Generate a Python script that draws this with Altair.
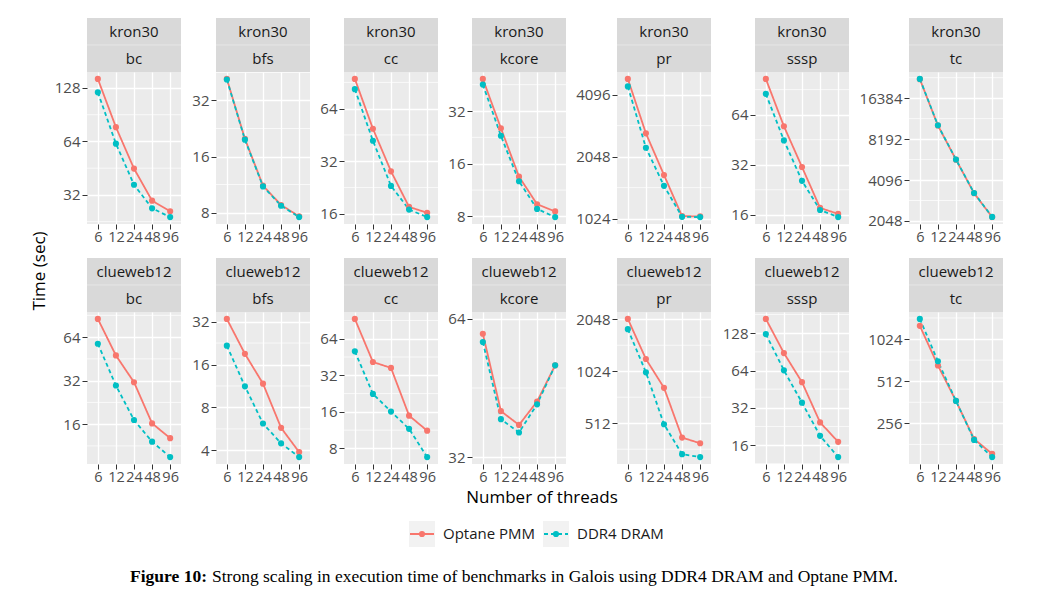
import math
import altair as alt
import pandas as pd

# ---------------- data ----------------
THREADS = ["6", "12", "24", "48", "96"]
GRAPHS = ["kron30", "clueweb12"]
BENCHES = ["bc", "bfs", "cc", "kcore", "pr", "sssp", "tc"]
SERIES = ["Optane PMM", "DDR4 DRAM"]
COLORS = ["#F8766D", "#00BFC4"]

KRON30_OPTANE = {
    "bc": [144, 77, 45, 29.7, 25.9],
    "bfs": [41.8, 19.9, 11.15, 8.78, 7.63],
    "cc": [94.8, 49.1, 28.0, 17.5, 16.2],
    "kcore": [48.8, 25.5, 13.5, 9.39, 8.54],
    "pr": [4881, 2656, 1667, 1053, 1050],
    "sssp": [105, 54.5, 31.0, 17.6, 16.2],
    "tc": [22600, 10310, 5780, 3277, 2187],
}
KRON30_DRAM = {
    "bc": [121, 62.2, 36.5, 26.9, 24.0],
    "bfs": [41.5, 19.7, 11.05, 8.7, 7.56],
    "cc": [82.8, 41.9, 23.1, 16.9, 15.3],
    "kcore": [45.3, 23.1, 12.7, 8.83, 7.93],
    "pr": [4488, 2261, 1477, 1045, 1042],
    "sssp": [85.4, 44.8, 25.6, 17.1, 15.5],
    "tc": [22700, 10350, 5800, 3290, 2195],
}
CLUEWEB12_OPTANE = {
    "bc": [85.5, 47.8, 31.2, 16.2, 12.8],
    "bfs": [33.4, 19.0, 11.75, 5.76, 3.89],
    "cc": [93.2, 41.2, 36.8, 14.9, 11.2],
    "kcore": [59.4, 40.3, 37.6, 42.3, 50.7],
    "pr": [2057, 1205, 821, 423, 392],
    "sssp": [167, 88.5, 51.5, 24.4, 17.0],
    "tc": [1272, 663, 370, 198, 155],
}
CLUEWEB12_DRAM = {
    "bc": [57.6, 29.6, 17.1, 12.1, 9.47],
    "bfs": [21.7, 11.25, 6.17, 4.48, 3.59],
    "cc": [50.4, 22.5, 16.1, 11.6, 6.79],
    "kcore": [57.0, 38.7, 36.2, 41.7, 50.7],
    "pr": [1794, 1009, 505, 339, 326],
    "sssp": [126, 64.2, 35.2, 19.0, 12.8],
    "tc": [1426, 711, 370, 195, 147],
}
# extra y-limits seen in one panel (its axis spans 32..64)
Y_LIMITS_EXTRA = {("clueweb12", "kcore"): [32, 64]}

DATA = {
    "kron30": {"Optane PMM": KRON30_OPTANE, "DDR4 DRAM": KRON30_DRAM},
    "clueweb12": {"Optane PMM": CLUEWEB12_OPTANE, "DDR4 DRAM": CLUEWEB12_DRAM},
}

# ---------------- styling ----------------
FONT = "Open Sans"
SERIF = "Liberation Serif"
PW, PH = 94, 152          # panel plot size
STRIP = 54                # strip height (two rows)
AXIS_EXTENT = [34, 26, 25, 25, 42, 35, 51]
PANEL_BG = "#EBEBEB"
STRIP_BG = "#D9D9D9"


def panel(graph, bench, col):
    rows = []
    for s in SERIES:
        for t, v in zip(THREADS, DATA[graph][s][bench]):
            rows.append({"threads": t, "n": int(t), "time": v, "series": s})
    df = pd.DataFrame(rows)

    vals = list(df["time"]) + Y_LIMITS_EXTRA.get((graph, bench), [])
    lo, hi = math.log2(min(vals)), math.log2(max(vals))
    pad = 0.05 * (hi - lo)
    dlo, dhi = lo - pad, hi + pad
    ticks = [2 ** k for k in range(math.ceil(dlo), math.floor(dhi) + 1)]
    minor = [2 ** (k + 0.5) for k in range(math.floor(dlo) - 1, math.ceil(dhi) + 1)
             if dlo < k + 0.5 < dhi]

    x = alt.X("threads:O",
              scale=alt.Scale(type="point", domain=THREADS, padding=0.6),
              axis=alt.Axis(title=None, labelAngle=0, labelFont=FONT, labelFontSize=14.5,
                            labelColor="#4D4D4D", tickColor="#333333", tickSize=5,
                            labelPadding=1, domain=False, grid=True, gridColor="white",
                            gridWidth=1.3, labelOverlap=False, minExtent=24))
    y = alt.Y("time:Q",
              scale=alt.Scale(type="log", base=2, domain=[2 ** dlo, 2 ** dhi], nice=False),
              axis=alt.Axis(title=None, values=ticks, format="d", labelFont=FONT,
                            labelFontSize=15, labelColor="#4D4D4D", tickColor="#333333",
                            tickSize=5, labelPadding=2, domain=False, grid=True,
                            gridColor="white", gridWidth=1.3, labelOverlap=False,
                            labelFlush=False, minExtent=AXIS_EXTENT[col]))
    color = alt.Color("series:N", scale=alt.Scale(domain=SERIES, range=COLORS), legend=None)
    dash = alt.StrokeDash("series:N", scale=alt.Scale(domain=SERIES, range=[[1, 0], [4, 3]]),
                          legend=None)

    minor_df = pd.DataFrame({"time": minor})
    minor_layer = alt.Chart(minor_df).mark_rule(color="white", strokeWidth=0.7).encode(y=y)
    lines = alt.Chart(df).mark_line(strokeWidth=1.8).encode(
        x=x, y=y, color=color, strokeDash=dash, order=alt.Order("n:Q"))
    points = alt.Chart(df).mark_point(filled=True, size=38, opacity=1).encode(
        x=x, y=y, color=color)

    sdf = pd.DataFrame({"graph": [graph], "bench": [bench]})
    strip_rect = alt.Chart(sdf).mark_rect(color=STRIP_BG).encode(
        x=alt.value(0), x2=alt.value(PW), y=alt.value(-STRIP), y2=alt.value(0))
    strip_sep = alt.Chart(sdf).mark_rule(color="#E6E6E6", strokeWidth=1).encode(
        x=alt.value(0), x2=alt.value(PW), y=alt.value(-STRIP / 2))
    strip_t1 = alt.Chart(sdf).mark_text(font=FONT, fontSize=15, color="#1A1A1A",
                                        baseline="middle").encode(
        x=alt.value(PW / 2), y=alt.value(-STRIP * 0.75), text="graph:N")
    strip_t2 = alt.Chart(sdf).mark_text(font=FONT, fontSize=15, color="#1A1A1A",
                                        baseline="middle").encode(
        x=alt.value(PW / 2), y=alt.value(-STRIP * 0.25), text="bench:N")

    return alt.layer(minor_layer, lines, points, strip_rect, strip_sep, strip_t1,
                     strip_t2).properties(
        width=PW, height=PH,
        view=alt.ViewBackground(fill=PANEL_BG, strokeWidth=0))


panels = [panel(g, b, i) for g in GRAPHS for i, b in enumerate(BENCHES)]
grid = alt.concat(*panels, columns=7, spacing={"row": 10, "column": 8}, align="each")

# y-axis title (its origin is aligned with the first row's plot top)
ylab = alt.Chart(pd.DataFrame({"t": ["Time (sec)"]})).mark_text(
    angle=270, font=FONT, fontSize=17, color="black", baseline="middle").encode(
    x=alt.value(32), y=alt.value(199), text="t:N").properties(width=45, height=400)

# ---------------- bottom: axis title, legend, caption ----------------
xtitle = alt.Chart(pd.DataFrame({"t": ["Number of threads"]})).mark_text(
    font=FONT, fontSize=17, color="black", baseline="middle").encode(
    x=alt.value(534), y=alt.value(10), text="t:N")

leg_df = pd.DataFrame({"series": SERIES})
lx = alt.X("series:N", scale=alt.Scale(type="point", domain=SERIES, range=[414, 548],
                                       padding=0), axis=None)
lcolor = alt.Color("series:N", scale=alt.Scale(domain=SERIES, range=COLORS), legend=None)
ldash = alt.StrokeDash("series:N", scale=alt.Scale(domain=SERIES, range=[[1, 0], [4, 3]]),
                       legend=None)
LY = 46
leg_key = alt.Chart(leg_df).mark_square(size=676, color="#F2F2F2", opacity=1).encode(
    x=lx, y=alt.value(LY))
leg_line = alt.Chart(leg_df).mark_rule(strokeWidth=1.8, xOffset=-12, x2Offset=12).encode(
    x=lx, x2=alt.X2("series"), y=alt.value(LY), color=lcolor, strokeDash=ldash)
leg_pt = alt.Chart(leg_df).mark_point(filled=True, size=38, opacity=1).encode(
    x=lx, y=alt.value(LY), color=lcolor)
leg_txt = alt.Chart(leg_df).mark_text(font=FONT, fontSize=15, color="#1A1A1A", align="left",
                                      baseline="middle", dx=21).encode(
    x=lx, y=alt.value(LY), text="series:N")

CAP_BOLD = "Figure 10:"
CAP_TEXT = ("Strong scaling in execution time of benchmarks in Galois using "
            "DDR4 DRAM and Optane PMM.")
cap_df = pd.DataFrame({"b": [CAP_BOLD], "t": [CAP_TEXT]})
cap_b = alt.Chart(cap_df).mark_text(font=SERIF, fontSize=17.5, fontWeight="bold",
                                    color="black", align="left", baseline="middle").encode(
    x=alt.value(122), y=alt.value(89), text="b:N")
cap_t = alt.Chart(cap_df).mark_text(font=SERIF, fontSize=17.5, color="black", align="left",
                                    baseline="middle").encode(
    x=alt.value(204), y=alt.value(89), text="t:N")

bottom = alt.layer(xtitle, leg_key, leg_line, leg_pt, leg_txt, cap_b, cap_t).properties(
    width=990, height=98)

top = alt.hconcat(ylab, grid, spacing=0)
chart = alt.vconcat(top, bottom, spacing=0).properties(
    padding={"left": 0, "top": 10, "right": 5, "bottom": 0},
    background="white",
).configure_view(strokeWidth=0)

chart.save("out.html", embed_options={"renderer": "svg", "actions": False})
